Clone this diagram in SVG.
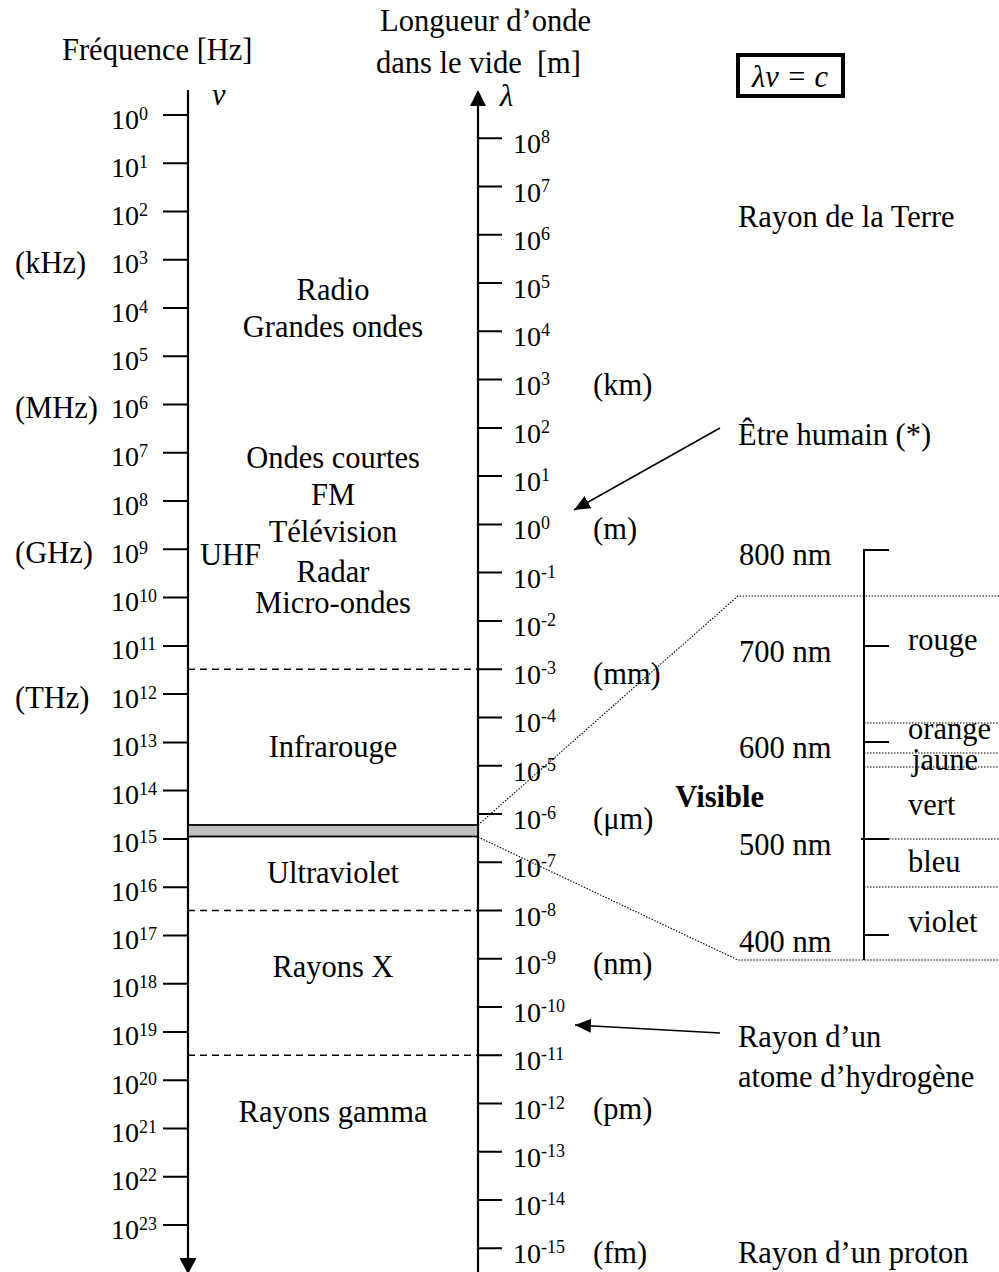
<svg xmlns="http://www.w3.org/2000/svg" width="999" height="1272" viewBox="0 0 999 1272">
  <style>
    text { font-family: "Liberation Serif", "Times New Roman", serif; fill: #000; }
    .lbl { font-size: 30.5px; }
    .mid { text-anchor: middle; }
    .end { text-anchor: end; }
    .tk { font-size: 28px; }
    .sup { font-size: 18px; }
    .it { font-style: italic; }
    .bold { font-weight: bold; }
    .axis { stroke: #000; stroke-width: 2.2; fill: none; }
    .tick { stroke: #000; stroke-width: 2; fill: none; }
    .dash { stroke: #000; stroke-width: 1.6; stroke-dasharray: 7 5; fill: none; }
    .dot { stroke: #000; stroke-width: 1.1; stroke-dasharray: 1.5 1.5; fill: none; }
    .conn { stroke: #000; stroke-width: 1.6; fill: none; }
  </style>
  <defs>
    <marker id="head" viewBox="0 0 16 14" refX="16" refY="7" markerWidth="16" markerHeight="14" markerUnits="userSpaceOnUse" orient="auto">
      <path d="M0,0 L16,7 L0,14 z" fill="#000"/>
    </marker>
  </defs>

  <rect width="999" height="1272" fill="#fff"/>

  <!-- titles -->
  <g id="titles">
    <text class="lbl" x="62" y="60">Fréquence [Hz]</text>
    <text class="lbl end" x="591" y="31">Longueur d’onde</text>
    <text class="lbl end" x="581" y="73">dans le vide&#160; [m]</text>
  </g>

  <!-- relation box -->
  <g id="formula">
    <rect x="738" y="55" width="105" height="41" fill="none" stroke="#000" stroke-width="4"/>
    <text class="lbl it mid" x="790" y="87">λν = c</text>
  </g>

  <!-- frequency axis (downwards) -->
  <g id="freq-axis">
    <line class="axis" x1="188" y1="90" x2="188" y2="1258"/>
    <path d="M179.5,1258 L196.5,1258 L188,1274 z" fill="#000"/>
    <text class="lbl it" x="212" y="105">ν</text>
    <path class="tick" d="M163,115H188M163,163.3H188M163,211.5H188M163,259.8H188M163,308H188M163,356.3H188M163,404.6H188M163,452.8H188M163,501.1H188M163,549.3H188M163,597.6H188M163,645.9H188M163,694.1H188M163,742.4H188M163,790.6H188M163,838.9H188M163,887.2H188M163,935.4H188M163,983.7H188M163,1031.9H188M163,1080.2H188M163,1128.5H188M163,1176.7H188M163,1225H188"/>
    <g class="tk">
      <text x="111" y="128.5">10<tspan class="sup" dy="-9">0</tspan></text>
      <text x="111" y="176.8">10<tspan class="sup" dy="-9">1</tspan></text>
      <text x="111" y="225">10<tspan class="sup" dy="-9">2</tspan></text>
      <text x="111" y="273.3">10<tspan class="sup" dy="-9">3</tspan></text>
      <text x="111" y="321.5">10<tspan class="sup" dy="-9">4</tspan></text>
      <text x="111" y="369.8">10<tspan class="sup" dy="-9">5</tspan></text>
      <text x="111" y="418.1">10<tspan class="sup" dy="-9">6</tspan></text>
      <text x="111" y="466.3">10<tspan class="sup" dy="-9">7</tspan></text>
      <text x="111" y="514.6">10<tspan class="sup" dy="-9">8</tspan></text>
      <text x="111" y="562.8">10<tspan class="sup" dy="-9">9</tspan></text>
      <text x="111" y="611.1">10<tspan class="sup" dy="-9">10</tspan></text>
      <text x="111" y="659.4">10<tspan class="sup" dy="-9">11</tspan></text>
      <text x="111" y="707.6">10<tspan class="sup" dy="-9">12</tspan></text>
      <text x="111" y="755.9">10<tspan class="sup" dy="-9">13</tspan></text>
      <text x="111" y="804.1">10<tspan class="sup" dy="-9">14</tspan></text>
      <text x="111" y="852.4">10<tspan class="sup" dy="-9">15</tspan></text>
      <text x="111" y="900.7">10<tspan class="sup" dy="-9">16</tspan></text>
      <text x="111" y="948.9">10<tspan class="sup" dy="-9">17</tspan></text>
      <text x="111" y="997.2">10<tspan class="sup" dy="-9">18</tspan></text>
      <text x="111" y="1045.4">10<tspan class="sup" dy="-9">19</tspan></text>
      <text x="111" y="1093.7">10<tspan class="sup" dy="-9">20</tspan></text>
      <text x="111" y="1142">10<tspan class="sup" dy="-9">21</tspan></text>
      <text x="111" y="1190.2">10<tspan class="sup" dy="-9">22</tspan></text>
      <text x="111" y="1238.5">10<tspan class="sup" dy="-9">23</tspan></text>
    </g>
    <text class="lbl" x="15" y="273.3">(kHz)</text>
    <text class="lbl" x="15" y="418.1">(MHz)</text>
    <text class="lbl" x="15" y="562.8">(GHz)</text>
    <text class="lbl" x="15" y="707.6">(THz)</text>
  </g>

  <!-- wavelength axis (upwards) -->
  <g id="wavelength-axis">
    <line class="axis" x1="478" y1="104" x2="478" y2="1272"/>
    <path d="M470,106 L486,106 L478,90 z" fill="#000"/>
    <text class="lbl it" x="500" y="106">λ</text>
    <path class="tick" d="M478,138.3H502M478,186.6H502M478,234.8H502M478,283.1H502M478,331.3H502M478,379.6H502M478,427.9H502M478,476.1H502M478,524.4H502M478,572.6H502M478,620.9H502M478,669.2H502M478,717.4H502M478,765.7H502M478,813.9H502M478,862.2H502M478,910.5H502M478,958.7H502M478,1007H502M478,1055.2H502M478,1103.5H502M478,1151.8H502M478,1200H502M478,1248.3H502"/>
    <g class="tk">
      <text x="513" y="153.3">10<tspan class="sup" dy="-10">8</tspan></text>
      <text x="513" y="201.6">10<tspan class="sup" dy="-10">7</tspan></text>
      <text x="513" y="249.8">10<tspan class="sup" dy="-10">6</tspan></text>
      <text x="513" y="298.1">10<tspan class="sup" dy="-10">5</tspan></text>
      <text x="513" y="346.3">10<tspan class="sup" dy="-10">4</tspan></text>
      <text x="513" y="394.6">10<tspan class="sup" dy="-10">3</tspan></text>
      <text x="513" y="442.9">10<tspan class="sup" dy="-10">2</tspan></text>
      <text x="513" y="491.1">10<tspan class="sup" dy="-10">1</tspan></text>
      <text x="513" y="539.4">10<tspan class="sup" dy="-10">0</tspan></text>
      <text x="513" y="587.6">10<tspan class="sup" dy="-10">-1</tspan></text>
      <text x="513" y="635.9">10<tspan class="sup" dy="-10">-2</tspan></text>
      <text x="513" y="684.2">10<tspan class="sup" dy="-10">-3</tspan></text>
      <text x="513" y="732.4">10<tspan class="sup" dy="-10">-4</tspan></text>
      <text x="513" y="780.7">10<tspan class="sup" dy="-10">-5</tspan></text>
      <text x="513" y="828.9">10<tspan class="sup" dy="-10">-6</tspan></text>
      <text x="513" y="877.2">10<tspan class="sup" dy="-10">-7</tspan></text>
      <text x="513" y="925.5">10<tspan class="sup" dy="-10">-8</tspan></text>
      <text x="513" y="973.7">10<tspan class="sup" dy="-10">-9</tspan></text>
      <text x="513" y="1022">10<tspan class="sup" dy="-10">-10</tspan></text>
      <text x="513" y="1070.2">10<tspan class="sup" dy="-10">-11</tspan></text>
      <text x="513" y="1118.5">10<tspan class="sup" dy="-10">-12</tspan></text>
      <text x="513" y="1166.8">10<tspan class="sup" dy="-10">-13</tspan></text>
      <text x="513" y="1215">10<tspan class="sup" dy="-10">-14</tspan></text>
      <text x="513" y="1263.3">10<tspan class="sup" dy="-10">-15</tspan></text>
    </g>
    <text class="lbl" x="593" y="394.6">(km)</text>
    <text class="lbl" x="593" y="539.4">(m)</text>
    <text class="lbl" x="593" y="684.2">(mm)</text>
    <text class="lbl" x="593" y="828.9">(μm)</text>
    <text class="lbl" x="593" y="973.7">(nm)</text>
    <text class="lbl" x="593" y="1118.5">(pm)</text>
    <text class="lbl" x="593" y="1263.3">(fm)</text>
  </g>

  <!-- spectral domains between the axes -->
  <g id="bands">
    <line class="dash" x1="188" y1="669.2" x2="478" y2="669.2"/>
    <line class="dash" x1="188" y1="910.5" x2="478" y2="910.5"/>
    <line class="dash" x1="188" y1="1055.2" x2="478" y2="1055.2"/>
    <rect x="188" y="825" width="290" height="11.5" fill="#c0c0c0" stroke="#000" stroke-width="1.8"/>
    <g class="lbl mid">
      <text x="333" y="300">Radio</text>
      <text x="333" y="337">Grandes ondes</text>
      <text x="333" y="468">Ondes courtes</text>
      <text x="333" y="505">FM</text>
      <text x="333" y="542">Télévision</text>
      <text x="333" y="582">Radar</text>
      <text x="333" y="613">Micro-ondes</text>
      <text x="333" y="757">Infrarouge</text>
      <text x="333" y="883">Ultraviolet</text>
      <text x="333" y="977">Rayons X</text>
      <text x="333" y="1122">Rayons gamma</text>
    </g>
    <text class="lbl" x="200" y="565">UHF</text>
  </g>

  <!-- enlarged visible range -->
  <g id="visible-scale">
    <path class="dot" d="M478,825 L738,596 H999"/>
    <path class="dot" d="M478,837 L738,960 H999"/>
    <path class="dot" d="M864,723H999M864,753H999M864,767H999M889,839H999M864,887H999"/>
    <line class="tick" x1="864" y1="549" x2="864" y2="960"/>
    <path class="tick" d="M864,550H889M864,646H889M864,742H889M861,839H889M864,935H889"/>
    <g class="lbl">
      <text x="739" y="565">800 nm</text>
      <text x="739" y="662">700 nm</text>
      <text x="739" y="758">600 nm</text>
      <text x="739" y="855">500 nm</text>
      <text x="739" y="952">400 nm</text>
      <text x="908" y="650">rouge</text>
      <text x="908" y="739">orange</text>
      <text x="912" y="770">jaune</text>
      <text x="908" y="815">vert</text>
      <text x="908" y="872">bleu</text>
      <text x="908" y="932">violet</text>
    </g>
    <text class="lbl bold end" x="764" y="807">Visible</text>
  </g>

  <!-- size references -->
  <g id="annotations">
    <text class="lbl" x="738" y="227">Rayon de la Terre</text>
    <text class="lbl" x="738" y="445">Être humain (*)</text>
    <text class="lbl" x="738" y="1047">Rayon d’un</text>
    <text class="lbl" x="738" y="1087">atome d’hydrogène</text>
    <text class="lbl" x="738" y="1263">Rayon d’un proton</text>
  </g>

  <g id="connectors">
    <line class="conn" x1="720" y1="428" x2="574" y2="510" marker-end="url(#head)"/>
    <line class="conn" x1="720" y1="1033" x2="575" y2="1025" marker-end="url(#head)"/>
  </g>
</svg>
